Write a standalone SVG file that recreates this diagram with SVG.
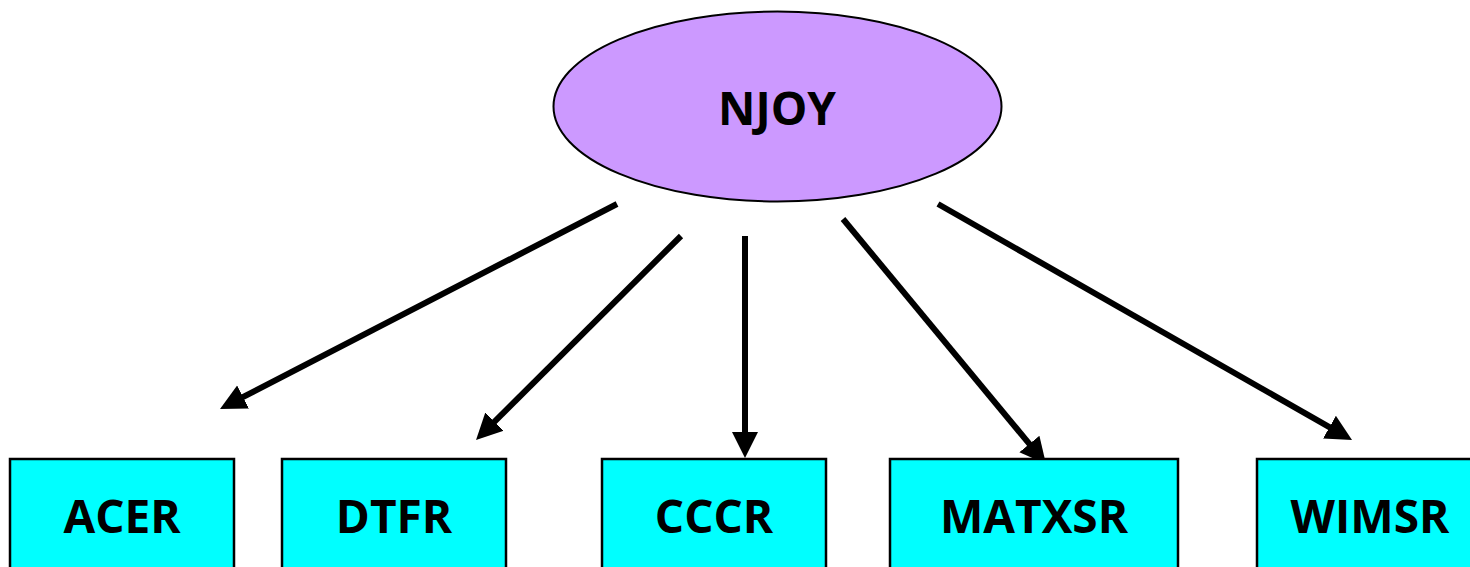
<svg xmlns="http://www.w3.org/2000/svg" width="1470" height="567" viewBox="0 0 1470 567">
<style>
.box{fill:#00FFFF;stroke:#000;stroke-width:2.5}
.lbl{font-family:"Open Sans","Liberation Sans",sans-serif;font-weight:bold;font-size:46px;fill:#000;text-anchor:middle}
.conn{stroke:#000;stroke-width:6;fill:none;marker-end:url(#ah)}
</style>
<defs>
<marker id="ah" markerUnits="userSpaceOnUse" markerWidth="28" markerHeight="28" viewBox="0 0 28 28" refX="8" refY="14" orient="auto">
<path d="M0,1 L26,14 L0,27 Z" fill="#000"/>
</marker>
</defs>
<rect width="1470" height="567" fill="#fff"/>
<g id="connectors">
<line class="conn" x1="617" y1="204" x2="236" y2="400.7"/>
<line class="conn" x1="681" y1="236" x2="488.8" y2="427.3"/>
<line class="conn" x1="745" y1="236" x2="745" y2="440"/>
<line class="conn" x1="843" y1="219" x2="1034.5" y2="450.1"/>
<line class="conn" x1="938" y1="204" x2="1336.4" y2="431.1"/>
</g>
<g id="njoy">
<ellipse cx="777.5" cy="106.5" rx="224" ry="95" fill="#CC99FF" stroke="#000" stroke-width="2"/>
<text class="lbl" x="777" y="125">NJOY</text>
</g>
<g id="acer">
<rect class="box" x="10" y="459" width="224" height="130"/>
<text class="lbl" x="122" y="533">ACER</text>
</g>
<g id="dtfr">
<rect class="box" x="282" y="459" width="224" height="130"/>
<text class="lbl" x="394" y="533">DTFR</text>
</g>
<g id="cccr">
<rect class="box" x="602" y="459" width="224" height="130"/>
<text class="lbl" x="714" y="533">CCCR</text>
</g>
<g id="matxsr">
<rect class="box" x="890" y="459" width="288" height="130"/>
<text class="lbl" x="1034" y="533">MATXSR</text>
</g>
<g id="wimsr">
<rect class="box" x="1257" y="459" width="226" height="130"/>
<text class="lbl" x="1370" y="533">WIMSR</text>
</g>
</svg>
